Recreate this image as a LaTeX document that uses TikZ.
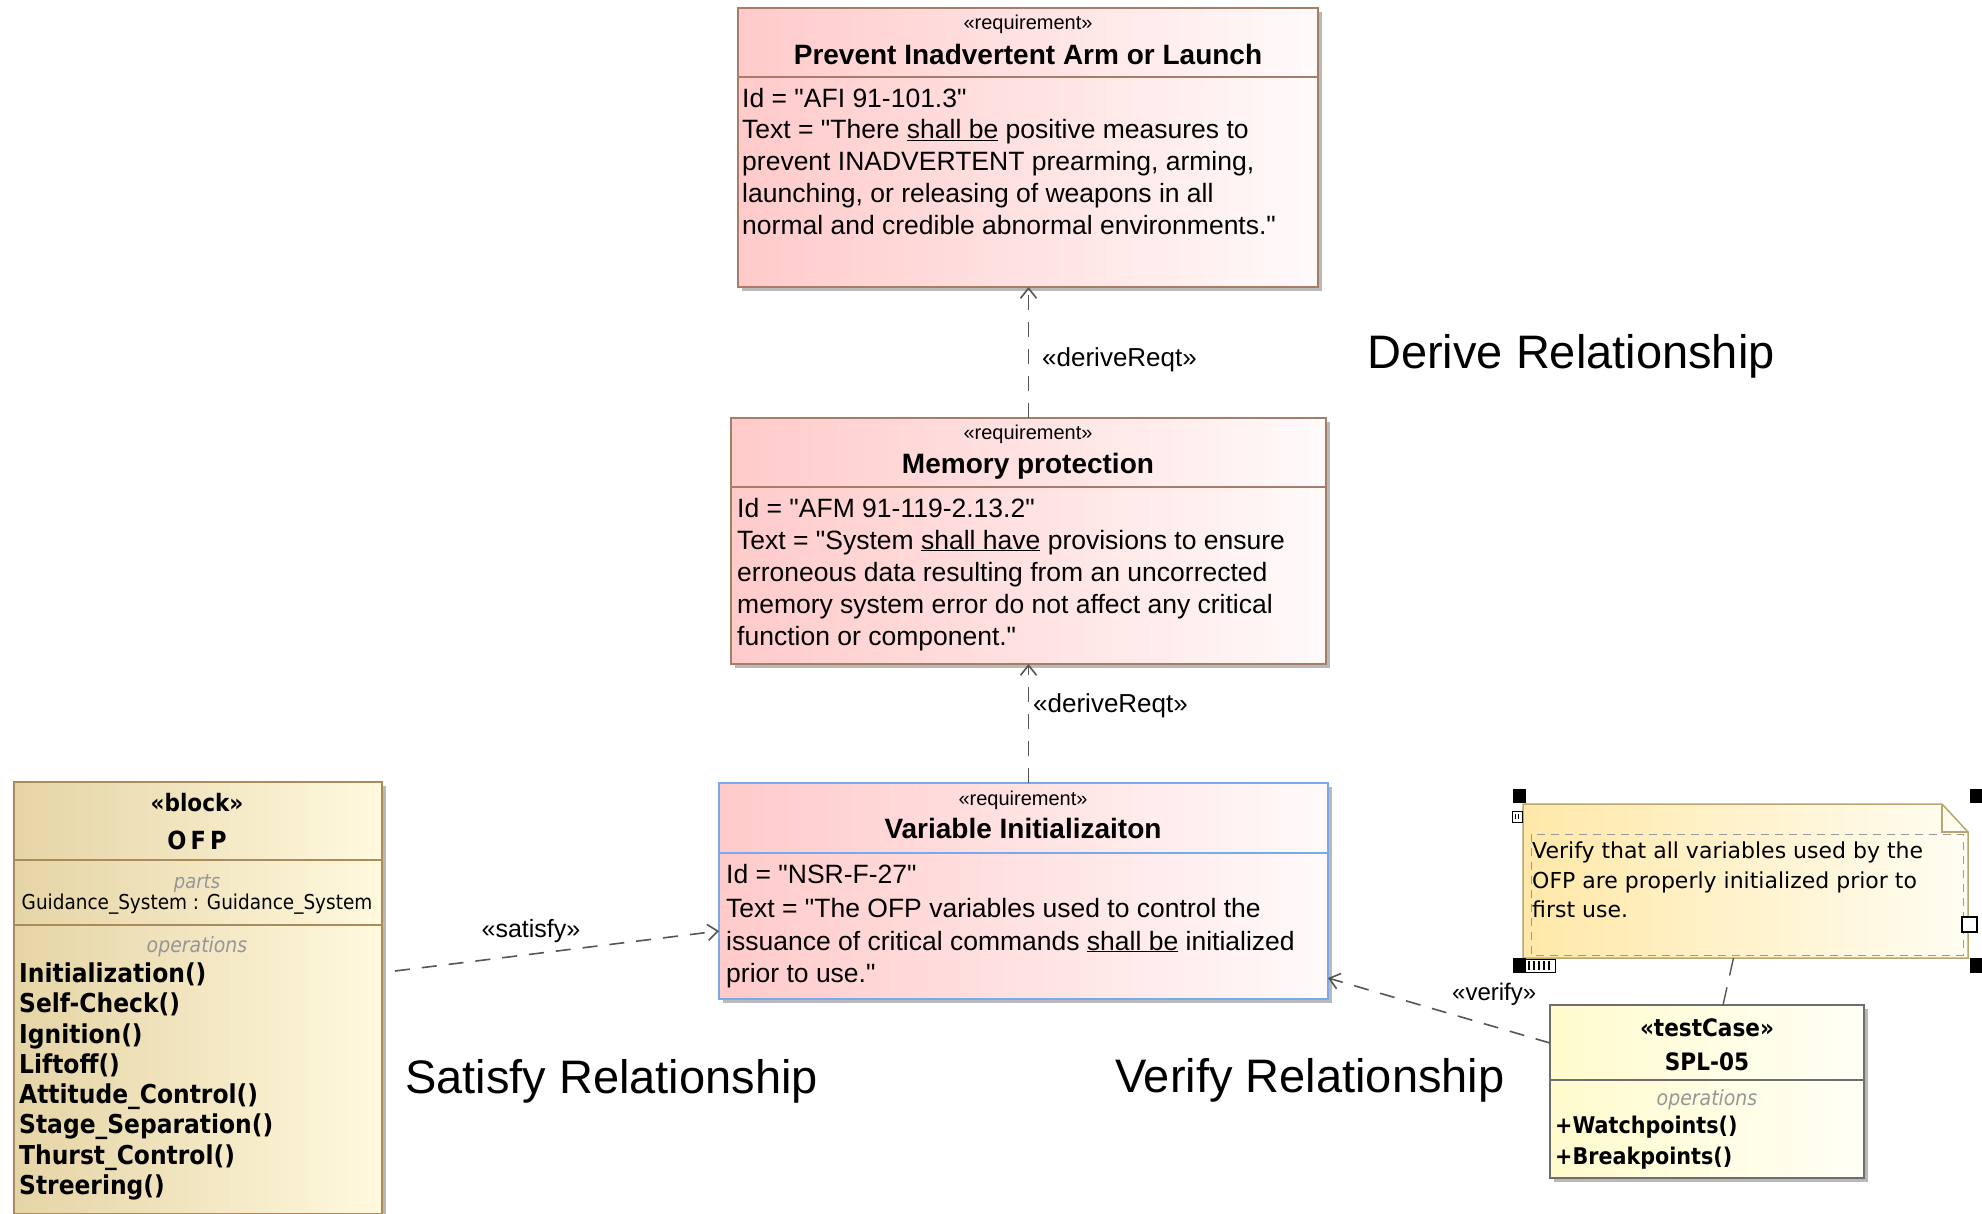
\documentclass[tikz,border=0pt]{standalone}
\usepackage{fontspec}
\setmainfont{Liberation Sans}
\newfontfamily\lib{Liberation Sans}
\newfontfamily\tah[FakeStretch=0.9]{DejaVu Sans}
\newfontfamily\dvs{DejaVu Sans}
\usetikzlibrary{arrows.meta,shadows,calc}
\newcommand\fsz[1]{\fontsize{#1}{#1}\selectfont}
\definecolor{reqL}{RGB}{255,202,202}
\definecolor{reqR}{RGB}{255,250,250}
\definecolor{reqB}{RGB}{165,125,105}
\definecolor{viB}{RGB}{120,170,235}
\definecolor{blkL}{RGB}{229,212,165}
\definecolor{blkR}{RGB}{255,249,222}
\definecolor{blkB}{RGB}{170,140,90}
\definecolor{noteL}{RGB}{255,232,168}
\definecolor{noteR}{RGB}{255,253,242}
\definecolor{noteB}{RGB}{185,165,110}
\definecolor{tcL}{RGB}{255,251,205}
\definecolor{tcR}{RGB}{255,255,246}
\definecolor{tcB}{RGB}{110,110,110}
\definecolor{connC}{RGB}{85,85,85}
\definecolor{hdrG}{RGB}{150,150,150}
\begin{document}
\begin{tikzpicture}[x=1pt,y=-1pt,
  box/.style={anchor=north west, inner sep=0pt, outer sep=0pt, line width=1.5pt,
    drop shadow={shadow xshift=4pt,shadow yshift=-4pt,fill=black!50,opacity=.55}},
  req/.style={box, draw=reqB, left color=reqL, right color=reqR},
  txt/.style={anchor=base west, inner sep=0pt},
  ctr/.style={anchor=base, inner sep=0pt},
  body/.style={txt, font=\lib\fsz{26.5}},
  ster/.style={ctr, font=\lib\fsz{20}},
  ttl/.style={ctr, font=\lib\bfseries\fsz{28}},
  ops/.style={txt, font=\tah\bfseries\fsz{26}},
  hdr/.style={ctr, font=\tah\itshape\fsz{21}, text=hdrG},
  rel/.style={font=\lib\fsz{26}, inner sep=0pt},
  big/.style={txt, font=\lib\fsz{47}},
  conn/.style={draw=connC, line width=1.6pt, dash pattern=on 15pt off 12pt},
  tip/.style={-{Straight Barb[length=10pt,width=16pt]}},
  handle/.style={fill=black, draw=black, line width=0.5pt}
]
\useasboundingbox (0,0) rectangle (1982,1214);

% ---------- Prevent Inadvertent Arm or Launch ----------
\node[req, minimum width=580pt, minimum height=279pt] (prev) at (738,8) {};
\draw[reqB, line width=1.5pt] (prev.west |- 0,77) -- (prev.east |- 0,77);
\node[ster] (prevS) at (1028,30) {«requirement»};
\node[ttl] (prevT) at (1028,65) {Prevent Inadvertent Arm or Launch};
\node[body] (prev1) at (742,108) {Id = "AFI 91-101.3"};
\node[body] (prev2) at (742,139) {Text = "There \underline{shall be} positive measures to};
\node[body] (prev3) at (742,171) {prevent INADVERTENT prearming, arming,};
\node[body] (prev4) at (742,203) {launching, or releasing of weapons in all};
\node[body] (prev5) at (742,235) {normal and credible abnormal environments."};

% ---------- Memory protection ----------
\node[req, minimum width=595pt, minimum height=246pt] (mem) at (731,418) {};
\draw[reqB, line width=1.5pt] (mem.west |- 0,487) -- (mem.east |- 0,487);
\node[ster] (memS) at (1028,440) {«requirement»};
\node[ttl] (memT) at (1028,474) {Memory protection};
\node[body] (mem1) at (737,517) {Id = "AFM 91-119-2.13.2"};
\node[body] (mem2) at (737,549) {Text = "System \underline{shall have} provisions to ensure};
\node[body] (mem3) at (737,581) {erroneous data resulting from an uncorrected};
\node[body] (mem4) at (737,613) {memory system error do not affect any critical};
\node[body] (mem5) at (737,645) {function or component."};

% ---------- Variable Initializaiton ----------
\node[box, draw=viB, left color=reqL, right color=reqR, minimum width=609pt, minimum height=216pt] (vi) at (719,783) {};
\draw[viB, line width=1.5pt] (vi.west |- 0,853) -- (vi.east |- 0,853);
\node[ster] (viS) at (1023,805) {«requirement»};
\node[ttl] (viT) at (1023,838) {Variable Initializaiton};
\node[body] (vi1) at (726,883) {Id = "NSR-F-27"};
\node[body] (vi2) at (726,917) {Text = "The OFP variables used to control the};
\node[body] (vi3) at (726,950) {issuance of critical commands \underline{shall be} initialized};
\node[body] (vi4) at (726,982) {prior to use."};

% ---------- OFP block ----------
\node[box, draw=blkB, left color=blkL, right color=blkR, minimum width=368pt, minimum height=432pt] (ofp) at (14,782) {};
\draw[blkB, line width=1.5pt] (ofp.west |- 0,860) -- (ofp.east |- 0,860);
\draw[blkB, line width=1.5pt] (ofp.west |- 0,925) -- (ofp.east |- 0,925);
\node[ctr, font=\tah\bfseries\fsz{24}] (ofpS) at (197,811) {«block»};
\node[ctr, font=\tah\bfseries\fsz{25}] (ofpT) at (197,849) {O\,F\,P};
\node[hdr, font=\tah\itshape\fsz{20}] (ofpP) at (197,888) {parts};
\node[ctr, font=\tah\fsz{20.5}] (ofpG) at (197,909) {Guidance\_System : Guidance\_System};
\node[hdr] (ofpO) at (197,952) {operations};
\node[ops] (op1) at (19,982) {Initialization()};
\node[ops] (op2) at (19,1012) {Self-Check()};
\node[ops] (op3) at (19,1043) {Ignition()};
\node[ops] (op4) at (19,1073) {Liftoff()};
\node[ops] (op5) at (19,1103) {Attitude\_Control()};
\node[ops] (op6) at (19,1133) {Stage\_Separation()};
\node[ops] (op7) at (19,1164) {Thurst\_Control()};
\node[ops] (op8) at (19,1194) {Streering()};

% ---------- testCase SPL-05 ----------
\node[box, draw=tcB, left color=tcL, right color=tcR, minimum width=314pt, minimum height=173pt] (tc) at (1550,1005) {};
\draw[tcB, line width=1.5pt] (tc.west |- 0,1080) -- (tc.east |- 0,1080);
\node[ctr, font=\tah\bfseries\fsz{24}] (tcS) at (1707,1036) {«testCase»};
\node[ctr, font=\tah\bfseries\fsz{24}] (tcT) at (1707,1070) {SPL-05};
\node[hdr] (tcO) at (1707,1105) {operations};
\node[txt, font=\tah\bfseries\fsz{23}] (tc1) at (1555,1133) {+Watchpoints()};
\node[txt, font=\tah\bfseries\fsz{23}] (tc2) at (1555,1164) {+Breakpoints()};

% ---------- Note ----------
\node[anchor=north west, inner sep=0pt, outer sep=0pt, minimum width=445pt, minimum height=154pt] (note) at (1523,804) {};
\path[left color=noteL, right color=noteR, draw=noteB, line width=1.5pt]
  (note.north west) -- ($(note.north east)+(-26,0)$) -- ($(note.north east)+(0,28)$)
  -- (note.south east) -- (note.south west) -- cycle;
\draw[noteB, line width=1.2pt] ($(note.north east)+(-26,0)$) -- ($(note.north east)+(-26,28)$) -- ($(note.north east)+(0,28)$);
\draw[black!40, line width=1pt, dash pattern=on 8pt off 6pt] (1531,834) rectangle (1963,955);
\node[txt, font=\dvs\fsz{22}] (n1) at (1532,858) {Verify that all variables used by the};
\node[txt, font=\dvs\fsz{22}] (n2) at (1532,888) {OFP are properly initialized prior to};
\node[txt, font=\dvs\fsz{22}] (n3) at (1532,917) {first use.};
% selection handles
\fill[handle] (1513,789) rectangle (1525,802);
\fill[handle] (1970,789) rectangle (1982,802);
\fill[handle] (1513,958) rectangle (1525,972);
\fill[handle] (1970,958) rectangle (1982,972);
\draw[black, fill=white, line width=1pt] (1512,811) rectangle (1522,822);
\draw[black, line width=0.8pt] (1515,814) -- (1515,819) (1518,814) -- (1518,819);
\draw[black, fill=white, line width=1.2pt] (1962,917) rectangle (1977,932);
\draw[black, fill=white, line width=1pt] (1525,959) rectangle (1555,972);
\foreach \xx in {1529,1534,1539,1544,1549} \draw[black, line width=1.2pt] (\xx,961) -- (\xx,970);

% ---------- connectors ----------
\draw[conn, tip] (mem.north) -- (mem.north |- prev.south);
\draw[conn, tip] (vi.north -| mem.south) -- (mem.south);
\draw[conn, tip] ($(ofp.east |- 0,971)+(13,0)$) -- (vi.west |- 0,931);
\draw[conn, tip] (tc.west |- 0,1043) -- (vi.east |- 0,978);
\draw[conn, line width=1.4pt, dash pattern=on 18pt off 12pt] ($(note.south)+(-12,0)$) -- ($(tc.north)+(16,0)$);

\node[rel, anchor=base west] (lblD1) at (1042,367) {«deriveReqt»};
\node[rel, anchor=base west] (lblD2) at (1033,712) {«deriveReqt»};
\node[rel, anchor=base, font=\lib\fsz{25}] (lblS) at (531,937) {«satisfy»};
\node[rel, anchor=base west, font=\lib\fsz{24}] (lblV) at (1452,1000) {«verify»};

% ---------- captions ----------
\node[big] (capD) at (1367,369) {Derive Relationship};
\node[big] (capS) at (405,1093) {Satisfy Relationship};
\node[big] (capV) at (1115,1092) {Verify Relationship};
\end{tikzpicture}
\end{document}
